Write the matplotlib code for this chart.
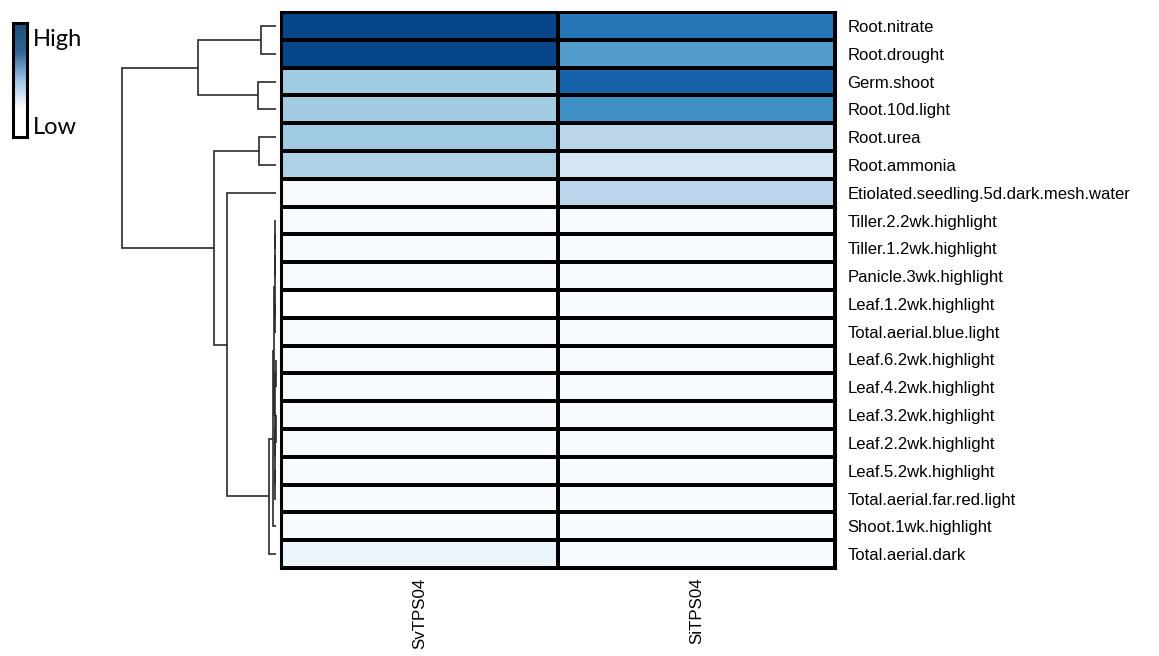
import numpy as np
import matplotlib
matplotlib.use("Agg")
import matplotlib.pyplot as plt
from matplotlib.colors import LinearSegmentedColormap
from matplotlib import cm

# ---- data -------------------------------------------------------------
samples = ["SvTPS04", "SiTPS04"]
tissues = [
    "Root.nitrate", "Root.drought", "Germ.shoot", "Root.10d.light",
    "Root.urea", "Root.ammonia", "Etiolated.seedling.5d.dark.mesh.water",
    "Tiller.2.2wk.highlight", "Tiller.1.2wk.highlight", "Panicle.3wk.highlight",
    "Leaf.1.2wk.highlight", "Total.aerial.blue.light", "Leaf.6.2wk.highlight",
    "Leaf.4.2wk.highlight", "Leaf.3.2wk.highlight", "Leaf.2.2wk.highlight",
    "Leaf.5.2wk.highlight", "Total.aerial.far.red.light", "Shoot.1wk.highlight",
    "Total.aerial.dark",
]
# scaled expression (0 = low, 1 = high)
sv_expr = [0.92, 0.92, 0.40, 0.40, 0.41, 0.36, 0.07,
           0.06, 0.06, 0.06, 0.00, 0.06, 0.06, 0.06, 0.06, 0.06, 0.06, 0.06, 0.06, 0.11]
si_expr = [0.74, 0.60, 0.82, 0.66, 0.33, 0.22, 0.33,
           0.06, 0.06, 0.06, 0.06, 0.06, 0.06, 0.06, 0.06, 0.06, 0.06, 0.06, 0.06, 0.06]

# row clustering: (left, right, height); ints are leaf rows, tuples are sub-clusters
row_tree = (
    ((0, 1, 15), (2, 3, 18), 78),
    ((4, 5, 17),
     (6,
      ((((((7, 8, 0.6), 9, 0.9), (10, 11, 0.7), 1.3),
         ((12, 13, 0.5), ((14, 15, 0.4), (16, 17, 0.6), 0.9), 1.2), 1.8),
        18, 3.0),
       19, 7.0),
      49),
     62),
    154,
)

# ---- figure -----------------------------------------------------------
W, H = 1159, 656
fig = plt.figure(figsize=(W / 100, H / 100), dpi=100)

def px_axes(x0, y0, x1, y1):
    return fig.add_axes([x0 / W, 1 - y1 / H, (x1 - x0) / W, (y1 - y0) / H])

# heatmap
cmap = LinearSegmentedColormap.from_list(
    "wblues", [(0.0, "#ffffff")] + [(0.06 + 0.94 * t, cm.Blues(t)) for t in np.linspace(0, 1, 12)])
data = np.column_stack([sv_expr, si_expr])
nrow, ncol = data.shape

ax = px_axes(281, 12, 835, 568)
ax.pcolormesh(np.arange(ncol + 1), np.arange(nrow + 1), data, cmap=cmap, vmin=0, vmax=1,
              edgecolors="black", linewidth=1.5)
ax.set_xlim(0, ncol)
ax.set_ylim(nrow, 0)
for s in ax.spines.values():
    s.set_linewidth(2.2)
ax.set_xticks(np.arange(ncol) + 0.5)
ax.set_xticklabels(samples, rotation=90, fontsize=12.2, family="Liberation Sans")
ax.set_yticks(np.arange(nrow) + 0.5)
ax.set_yticklabels(tissues, fontsize=12.0, family="Liberation Sans")
ax.yaxis.tick_right()
ax.tick_params(length=0, pad=9)
ax.tick_params(axis="x", pad=7)

# row dendrogram
dax = px_axes(100, 12, 281, 568)
dax.set_ylim(nrow, 0)
dax.set_xlim(176, -5)
dax.axis("off")

def draw(node):
    """Return (y-center, height) of node and draw its links."""
    if isinstance(node, int):
        return node + 0.5, 0.0
    left, right, h = node
    yl, hl = draw(left)
    yr, hr = draw(right)
    dax.plot([hl, h, h, hr], [yl, yl, yr, yr], color="#2a2a2a", lw=1.2,
             solid_joinstyle="miter", solid_capstyle="butt")
    return (yl + yr) / 2, h

draw(row_tree)

# colour key
kax = px_axes(13, 23, 27, 137)
grad = np.linspace(0, 1, 256).reshape(-1, 1)
key_cmap = LinearSegmentedColormap.from_list("key", ["#ffffff", "#ffffff", "#9dc3e6", "#2e6496", "#1f4e79"])
kax.imshow(grad, aspect="auto", cmap=key_cmap, origin="lower", extent=[0, 1, 0, 1])
kax.set_xticks([])
kax.set_yticks([])
for s in kax.spines.values():
    s.set_linewidth(2.2)
fig.text(33 / W, 1 - 40 / H, "High", fontsize=17, family="Lato", va="center", ha="left")
fig.text(33 / W, 1 - 127 / H, "Low", fontsize=17, family="Lato", va="center", ha="left")

fig.savefig("out.png", dpi=100)
